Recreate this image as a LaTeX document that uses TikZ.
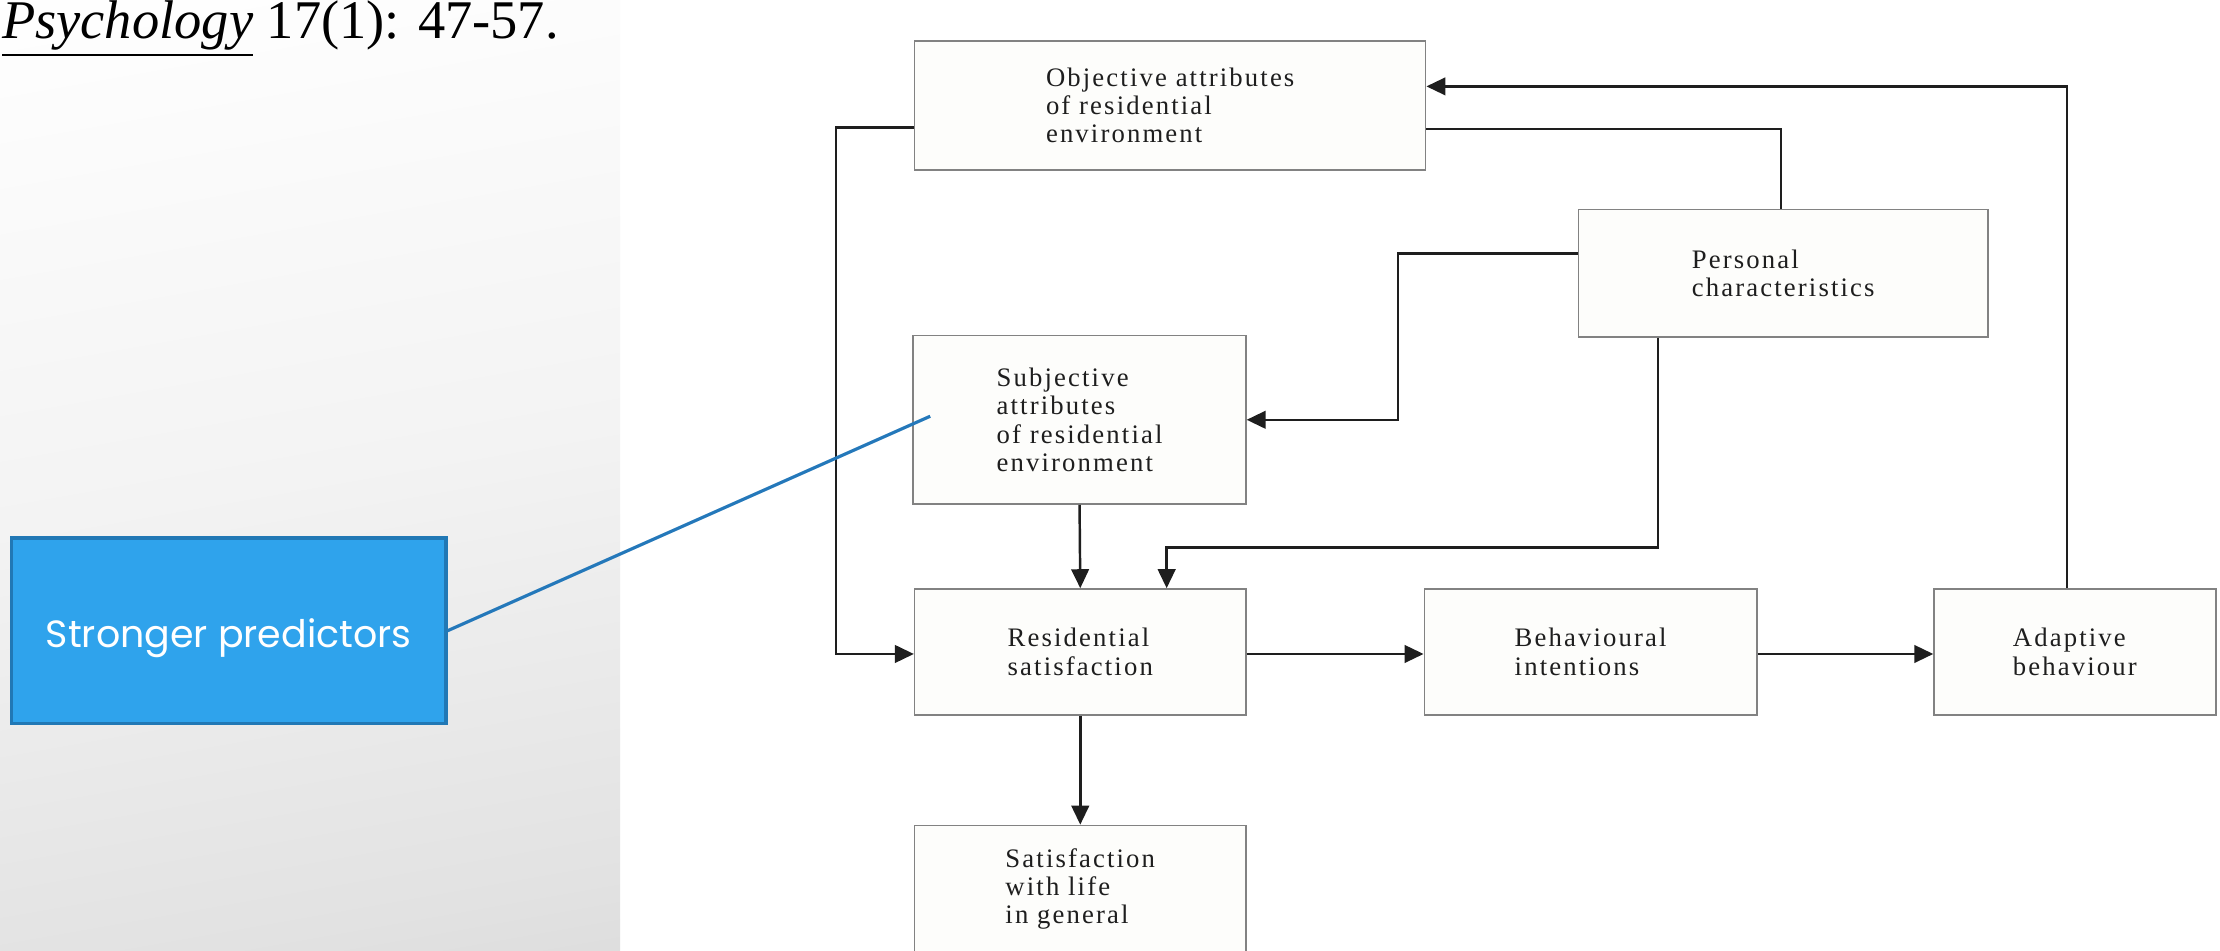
\documentclass[tikz,border=0pt]{standalone}
\usepackage{fontspec}
\usetikzlibrary{arrows.meta}
\newfontfamily\figfont[LetterSpace=8]{Liberation Serif}
\newfontfamily\titlefont{Liberation Serif}
\newfontfamily\calloutfont{Poppins}
\definecolor{calloutblue}{RGB}{47,163,236}
\definecolor{calloutedge}{RGB}{33,120,181}
\definecolor{leaderblue}{RGB}{36,120,186}
\definecolor{boxedge}{RGB}{130,130,130}
\definecolor{boxfill}{RGB}{253,253,251}
\definecolor{inkcol}{RGB}{30,30,30}
\definecolor{panelbottom}{RGB}{200,200,200}
\definecolor{panellow}{RGB}{226,226,226}
\definecolor{panelmid}{RGB}{243,243,243}
\pgfdeclareverticalshading{panelshade}{100bp}{color(0bp)=(panelbottom); color(25bp)=(panellow); color(50bp)=(panelmid); color(80bp)=(white); color(100bp)=(white)}
\begin{document}
\begin{tikzpicture}[x=0.014158cm,y=-0.014158cm,
  flowbox/.style={draw=boxedge, line width=0.45pt, fill=boxfill, align=left,
    text=inkcol, font=\figfont\fontsize{7.6}{8.06}\selectfont, inner sep=0pt},
  conn/.style={draw=inkcol, line width=0.7pt},
  arr/.style={conn, -{Triangle[length=5.4pt,width=5pt]}}]
\useasboundingbox (0,0) rectangle (1568,671);
\clip (0,0) rectangle (1568,671);
\fill[white] (0,0) rectangle (1568,671);
\shade[shading=panelshade, shading angle=10] (0,0) rectangle (438,671);

% title fragment
\node[anchor=base west, inner sep=0, font=\titlefont\fontsize{15.5}{18}\selectfont, text=black] (cite) at (1,27)
  {\underline{\textit{Psychology}} 17(1): 47-57.};

% boxes
\node[flowbox, minimum width=5.111cm, minimum height=1.288cm] (obj) at (826.5,74.5)
  {Objective attributes\\of residential\\environment};
\node[flowbox, minimum width=4.092cm, minimum height=1.274cm] (pers) at (1259.5,193)
  {Personal\\characteristics};
\node[flowbox, minimum width=3.327cm, minimum height=1.685cm] (sub) at (762.5,296.5)
  {Subjective\\attributes\\of residential\\environment};
\node[flowbox, minimum width=3.313cm, minimum height=1.260cm] (res) at (763,460.5)
  {Residential\\satisfaction};
\node[flowbox, minimum width=3.327cm, minimum height=1.260cm] (beh) at (1123.5,460.5)
  {Behavioural\\intentions};
\node[flowbox, minimum width=2.817cm, minimum height=1.260cm] (ada) at (1465.5,460.5)
  {Adaptive\\behaviour};
\node[flowbox, minimum width=3.313cm, minimum height=1.274cm] (sat) at (763,628)
  {Satisfaction\\with life\\in general};

% connectors
\draw[arr] (obj.west) ++(0,15.5) -- ++(-55,0) |- ([yshift=-0.02cm]res.west);
\draw[conn] (obj.east) ++(0,16.5) -| ([xshift=-0.02cm]pers.north);
\draw[arr] ([xshift=-0.08cm]ada.north) |- ([yshift=0.191cm]obj.east);
\draw[arr] ([yshift=0.198cm]pers.west) -- ++(-127,0) |- (sub.east);
\draw[arr] ([xshift=-1.253cm]pers.south) -- ++(0,148) -| ([xshift=0.864cm]res.north);
\draw[arr] (sub.south) -- (res.north);
\draw[arr] ([yshift=-0.02cm]res.east) -- ([yshift=-0.02cm]beh.west);
\draw[arr] ([yshift=-0.02cm]beh.east) -- ([yshift=-0.02cm]ada.west);
\draw[arr] (res.south) -- (sat.north);

% callout
\node[fill=calloutblue, draw=calloutedge, line width=0.9pt, minimum width=4.347cm,
  minimum height=1.855cm, inner sep=0pt, text=white, text height=11pt, text depth=1.5pt,
  font=\calloutfont\fontsize{10.8}{12}\selectfont] (callout) at (161.5,445.5) {Stronger predictors};
\coordinate (leadend) at (657,294);
\draw[leaderblue, line width=0.9pt] (callout.east) -- (leadend);
\end{tikzpicture}
\end{document}
